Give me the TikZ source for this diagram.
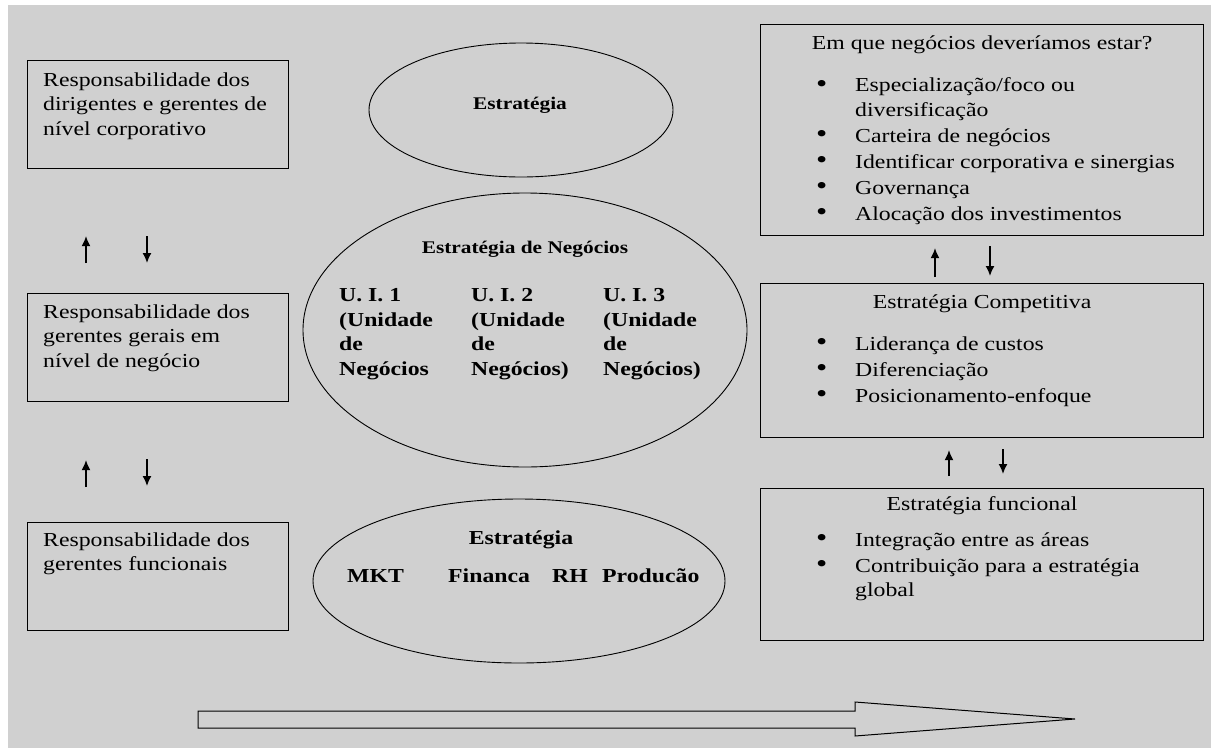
\documentclass[tikz,border=0pt]{standalone}
\usepackage{fontspec}
\setmainfont{Liberation Serif}[FakeStretch=1.2]
\usepackage{tikz}
\usetikzlibrary{shapes,calc,positioning,arrows.meta}
\definecolor{bg_gray}{RGB}{208,208,208}
\newcommand{\bitem}{\makebox[39pt][l]{\raisebox{-0.5pt}{\scalebox{1.35}{\textbullet}}}}
\newcommand{\bindent}{\hspace*{39pt}}

\begin{document}
\begin{tikzpicture}[x=1pt, y=-1pt,
    box_style/.style={rectangle, draw=black, line width=1.1pt, anchor=north west, inner sep=0pt},
    ell_style/.style={ellipse, draw=black, line width=0.9pt, inner sep=0pt},
    txt_style/.style={anchor=north west, inner sep=0pt, align=left, font=\fontsize{19.8}{24.5}\selectfont},
    title_style/.style={anchor=base, inner sep=0pt, font=\fontsize{19.8}{24.5}\selectfont},
    bold_style/.style={inner sep=0pt, align=left, font=\fontsize{19.8}{24.5}\selectfont\bfseries},
    bsmall_style/.style={anchor=base, inner sep=0pt, font=\fontsize{17.8}{21}\selectfont\bfseries},
    arrow_style/.style={-{Latex[length=10pt,width=9pt]}, line width=1.6pt},
    flow_style/.style={draw=black, line width=1pt}]

	\useasboundingbox (0,0) rectangle (1211,748);
	\fill[white] (0,0) rectangle (1211,748);
	\fill[bg_gray] (8,5) rectangle (1211,748);

	% left column
	\node[box_style, minimum width=261, minimum height=108] (l1) at (27,60) {};
	\node[box_style, minimum width=261, minimum height=108] (l2) at (27,293) {};
	\node[box_style, minimum width=261, minimum height=108] (l3) at (27,522) {};

	\node[txt_style] (l1t) at ([shift={(16,12.5)}]l1.north west) {Responsabilidade dos\\dirigentes e gerentes de\\nível corporativo};
	\node[txt_style] (l2t) at ([shift={(16,11.5)}]l2.north west) {Responsabilidade dos\\gerentes gerais em\\nível de negócio};
	\node[txt_style] (l3t) at ([shift={(16,10.5)}]l3.north west) {Responsabilidade dos\\gerentes funcionais};

	\draw[arrow_style, shorten <=30pt, shorten >=67pt] ([shift={(59,0)}]l2.north west) -- ([shift={(59,0)}]l1.south west);
	\draw[arrow_style, shorten <=67pt, shorten >=30pt] ([shift={(120,0)}]l1.south west) -- ([shift={(120,0)}]l2.north west);
	\draw[arrow_style, shorten <=35pt, shorten >=58pt] ([shift={(59,0)}]l3.north west) -- ([shift={(59,0)}]l2.south west);
	\draw[arrow_style, shorten <=57pt, shorten >=36pt] ([shift={(120,0)}]l2.south west) -- ([shift={(120,0)}]l3.north west);

	% middle column
	\node[ell_style, minimum width=304, minimum height=134] (e1) at (521,110) {};
	\node[ell_style, minimum width=444, minimum height=274] (e2) at (525,330) {};
	\node[ell_style, minimum width=412, minimum height=164] (e3) at (519,581) {};

	\node[bsmall_style] (e1t) at ([shift={(-1,-1)}]e1.center) {Estratégia};
	\node[bsmall_style] (e2t) at ([shift={(0,-77)}]e2.center) {Estratégia de Negócios};
	\node[bold_style, anchor=north west] (ui1) at ([shift={(-186,-41.4)}]e2.center) {U. I. 1\\(Unidade\\de\\Negócios};
	\node[bold_style, anchor=north west] (ui2) at ([shift={(-54,-41.4)}]e2.center) {U. I. 2\\(Unidade\\de\\Negócios)};
	\node[bold_style, anchor=north west] (ui3) at ([shift={(78,-41.4)}]e2.center) {U. I. 3\\(Unidade\\de\\Negócios)};

	\node[bold_style, anchor=base] (e3t) at ([shift={(2,-37)}]e3.center) {Estratégia};
	\node[bold_style, anchor=base west] (mkt) at ([shift={(-172,1)}]e3.center) {MKT};
	\node[bold_style, anchor=base west] (fin) at ([shift={(-71,1)}]e3.center) {Financa};
	\node[bold_style, anchor=base west] (rh) at ([shift={(33,1)}]e3.center) {RH};
	\node[bold_style, anchor=base west] (prod) at ([shift={(83,1)}]e3.center) {Producão};

	% right column
	\node[box_style, minimum width=443, minimum height=211] (r1) at (760,24) {};
	\node[box_style, minimum width=443, minimum height=154] (r2) at (760,283) {};
	\node[box_style, minimum width=443, minimum height=152] (r3) at (760,488) {};

	\node[title_style] (r1t) at ([shift={(0,25)}]r1.north) {Em que negócios deveríamos estar?};
	\node[txt_style] (r1l) at ([shift={(56,53.5)}]r1.north west) {\bitem Especialização/foco ou\\\bindent diversificação\\[1.5pt]\bitem Carteira de negócios\\[1.5pt]\bitem Identificar corporativa e sinergias\\[1.5pt]\bitem Governança\\[1.5pt]\bitem Alocação dos investimentos};

	\node[title_style] (r2t) at ([shift={(0,25)}]r2.north) {Estratégia Competitiva};
	\node[txt_style] (r2l) at ([shift={(56,53.5)}]r2.north west) {\bitem Liderança de custos\\[1.5pt]\bitem Diferenciação\\[1.5pt]\bitem Posicionamento-enfoque};

	\node[title_style] (r3t) at ([shift={(0,22)}]r3.north) {Estratégia funcional};
	\node[txt_style] (r3l) at ([shift={(56,44.5)}]r3.north west) {\bitem Integração entre as áreas\\[1.5pt]\bitem Contribuição para a estratégia\\\bindent global};

	\draw[arrow_style, shorten <=6pt, shorten >=12pt] ([shift={(175,0)}]r2.north west) -- ([shift={(175,0)}]r1.south west);
	\draw[arrow_style, shorten <=10pt, shorten >=7pt] ([shift={(230,0)}]r1.south west) -- ([shift={(230,0)}]r2.north west);
	\draw[arrow_style, shorten <=12pt, shorten >=12pt] ([shift={(189,0)}]r3.north west) -- ([shift={(189,0)}]r2.south west);
	\draw[arrow_style, shorten <=11pt, shorten >=14pt] ([shift={(243,0)}]r2.south west) -- ([shift={(243,0)}]r3.north west);

	% big arrow
	\draw[flow_style] (198,711) -- (855,711) -- (855,702) -- (1075,719) -- (855,736) -- (855,728) -- (198,728) -- cycle;
\end{tikzpicture}
\end{document}
